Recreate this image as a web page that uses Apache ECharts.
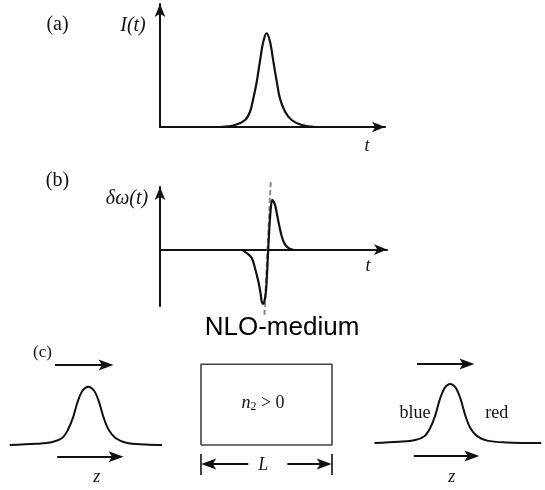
<!DOCTYPE html>
<html><head><meta charset="utf-8">
<script src="https://cdn.jsdelivr.net/npm/echarts@6/dist/echarts.min.js"></script>
<style>html,body{margin:0;padding:0;background:#fff}#c{width:545px;height:490px}</style>
</head><body><div id="c"></div>
<script>
// (a) intensity pulse I(t)
const A_T = [2.67, 3.33, 3.78, 4.00, 4.15, 4.30, 4.44, 4.59, 4.74, 4.89, 5.04, 5.19, 5.33, 5.56, 5.85, 6.30, 6.89];
const A_I = [0, 0.016, 0.057, 0.124, 0.233, 0.368, 0.531, 0.694, 0.762, 0.694, 0.531, 0.368, 0.233, 0.124, 0.057, 0.016, 0];
// (b) frequency shift δω(t)
const B_T = [3.63, 3.85, 4.08, 4.22, 4.37, 4.48, 4.52, 4.59, 4.71, 4.81, 4.89, 4.99, 5.11, 5.26, 5.41, 5.56, 5.78, 5.92];
const B_W = [0, -0.054, -0.134, -0.294, -0.506, -0.720, -0.826, -0.869, -0.665, 0, 0.502, 0.794, 0.719, 0.453, 0.214, 0.078, 0.010, 0];
const GUIDE_T = [4.92, 4.64];
const GUIDE_W = [1.08, -1.06];
// (c) input pulse shape (z relative to peak, normalised amplitude)
const PULSE_Z = [-8.1, -5.4, -3.7, -2.7, -2.1, -1.6, -1.1, -0.6, 0, 0.6, 1.1, 1.6, 2.1, 2.8, 3.9, 5.9, 7.6];
const PULSE_A = [0, 0.02, 0.05, 0.12, 0.26, 0.46, 0.74, 0.93, 1, 0.93, 0.74, 0.46, 0.26, 0.12, 0.04, 0.01, 0];
// (c) output pulse shape
const OUT_Z = [-8.0, -5.4, -3.7, -2.7, -2.1, -1.6, -1.1, -0.6, 0, 0.6, 1.1, 1.6, 2.1, 2.8, 3.9, 5.9, 9.6];
const OUT_A = [0, 0.02, 0.05, 0.12, 0.26, 0.46, 0.74, 0.93, 1, 0.93, 0.74, 0.46, 0.26, 0.12, 0.04, 0.01, 0];
// propagation arrows [x0, x1, y]
const LEFT_ARROWS = [[-3.43, 1.83, 1.372], [-3.2, 2.86, -0.2]];
const RIGHT_ARROWS = [[-3.51, 1.76, 1.339], [-3.85, 2.28, -0.22]];
// NLO medium box (units of L) and length marker
const BOX_X = [0, 1, 1, 0, 0];
const BOX_Y = [0, 0, 1, 1, 0];
const L_ARROWS = [[0.361, 0.059, -0.235], [0.659, 0.941, -0.235]];
const L_TICKS = [[0, -0.112, -0.372], [1, -0.112, -0.372]];

const INK = '#111';
const ARROW_HEAD = 'path://M0,0M15,15M7.5,0L13,15L7.5,11.5L2,15Z';
const pairs = (xs, ys) => xs.map((x, i) => [x, ys[i]]);
const hidden = {show: false};
const arrowMark = (arr) => ({
  silent: true, animation: false,
  symbol: ['none', ARROW_HEAD], symbolSize: 15,
  itemStyle: {color: INK},
  lineStyle: {color: INK, width: 2, type: 'solid'},
  label: {show: false},
  data: arr.map(a => [{coord: [a[0], a[2]]}, {coord: [a[1], a[2]]}])
});
const axisArrow = {show: true, onZero: true, symbol: ['none', 'arrow'], symbolSize: [8, 13], lineStyle: {color: INK, width: 2}};
const plainAxis = (o) => Object.assign({type: 'value', axisLine: axisArrow, axisTick: hidden, axisLabel: hidden, splitLine: hidden}, o);
const noAxis = (o) => Object.assign({type: 'value', show: false, splitLine: hidden}, o);
const serif = '"Liberation Serif","DejaVu Serif",serif';
const txt = (x, y, text, size, italic, extra) => ({
  type: 'text', x: x, y: y, silent: true,
  style: Object.assign({text: text, fill: INK, font: (italic ? 'italic ' : '') + size + 'px ' + serif, align: 'center', verticalAlign: 'middle'}, extra || {})
});

const chart = echarts.init(document.getElementById('c'), null, {renderer: 'canvas'});
chart.setOption({
  animation: false,
  backgroundColor: '#fff',
  grid: [
    {left: 160, top: 4, width: 225, height: 123},
    {left: 160, top: 187, width: 227, height: 119},
    {left: 1.0, top: 357.55, width: 174.6, height: 104.94},
    {left: 187.9, top: 356.23, width: 157.2, height: 129.12},
    {left: 365, top: 354.5, width: 184.3, height: 106.2}
  ],
  xAxis: [
    plainAxis({gridIndex: 0, min: 0, max: 10}),
    plainAxis({gridIndex: 1, min: 0, max: 10.09}),
    noAxis({gridIndex: 2, min: -9, max: 9}),
    noAxis({gridIndex: 3, min: -0.1, max: 1.1}),
    noAxis({gridIndex: 4, min: -9, max: 10})
  ],
  yAxis: [
    plainAxis({gridIndex: 0, min: 0, max: 1}),
    plainAxis({gridIndex: 1, min: -0.901, max: 1}),
    noAxis({gridIndex: 2, min: -0.3, max: 1.5}),
    noAxis({gridIndex: 3, min: -0.5, max: 1.1}),
    noAxis({gridIndex: 4, min: -0.3, max: 1.5})
  ],
  series: [
    {type: 'line', xAxisIndex: 0, yAxisIndex: 0, data: pairs(A_T, A_I), smooth: 0.35, symbol: 'none',
     lineStyle: {color: INK, width: 2.2}, silent: true},
    {type: 'line', xAxisIndex: 1, yAxisIndex: 1, data: pairs(B_T, B_W), smooth: 0.3, symbol: 'none',
     lineStyle: {color: INK, width: 2.2}, silent: true, clip: false},
    {type: 'line', xAxisIndex: 1, yAxisIndex: 1, data: pairs(GUIDE_T, GUIDE_W), symbol: 'none',
     lineStyle: {color: '#888', width: 2, type: [5, 3]}, silent: true, clip: false, z: 1},
    {type: 'line', xAxisIndex: 2, yAxisIndex: 2, data: pairs(PULSE_Z, PULSE_A), smooth: 0.35, symbol: 'none',
     lineStyle: {color: INK, width: 2}, silent: true, clip: false, markLine: arrowMark(LEFT_ARROWS)},
    {type: 'line', xAxisIndex: 3, yAxisIndex: 3, data: pairs(BOX_X, BOX_Y), symbol: 'none',
     lineStyle: {color: '#444', width: 1.6}, silent: true, clip: false, markLine: arrowMark(L_ARROWS)},
    {type: 'line', xAxisIndex: 3, yAxisIndex: 3, data: pairs(BOX_X, BOX_Y), symbol: 'none', silent: true, clip: false,
     lineStyle: {opacity: 0},
     markLine: {silent: true, animation: false, symbol: ['none', 'none'], lineStyle: {color: INK, width: 1.6, type: 'solid'},
       label: {show: false},
       data: L_TICKS.map(t => [{coord: [t[0], t[1]]}, {coord: [t[0], t[2]]}])}},
    {type: 'line', xAxisIndex: 4, yAxisIndex: 4, data: pairs(OUT_Z, OUT_A), smooth: 0.35, symbol: 'none',
     lineStyle: {color: INK, width: 2}, silent: true, clip: false, markLine: arrowMark(RIGHT_ARROWS)}
  ],
  graphic: [
    txt(57.5, 25, '(a)', 20, false),
    txt(133, 26, 'I(t)', 20, true),
    txt(367, 146, 't', 18, true),
    txt(57.5, 181, '(b)', 20, false),
    txt(127, 199, 'δω(t)', 20, true),
    txt(368, 266, 't', 18, true),
    {type: 'text', x: 282, y: 328, silent: true,
     style: {text: 'NLO-medium', fill: '#000', font: '26px "Liberation Sans", Arial, sans-serif', align: 'center', verticalAlign: 'middle'}},
    txt(42.5, 353, '(c)', 17, false),
    txt(96.7, 477, 'z', 18, true),
    txt(263, 403, '{i|n}{s|2}{r| > 0}', 18, false, {rich: {
      i: {font: 'italic 18px ' + serif, fill: INK},
      s: {font: '12px ' + serif, fill: INK, verticalAlign: 'bottom', padding: [8, 0, 0, 0]},
      r: {font: '18px ' + serif, fill: INK}}}),
    txt(263.3, 465, 'L', 18, true),
    txt(415, 413, 'blue', 18, false),
    txt(496.7, 413, 'red', 18, false),
    txt(451.7, 477, 'z', 18, true)
  ]
});
</script></body></html>
